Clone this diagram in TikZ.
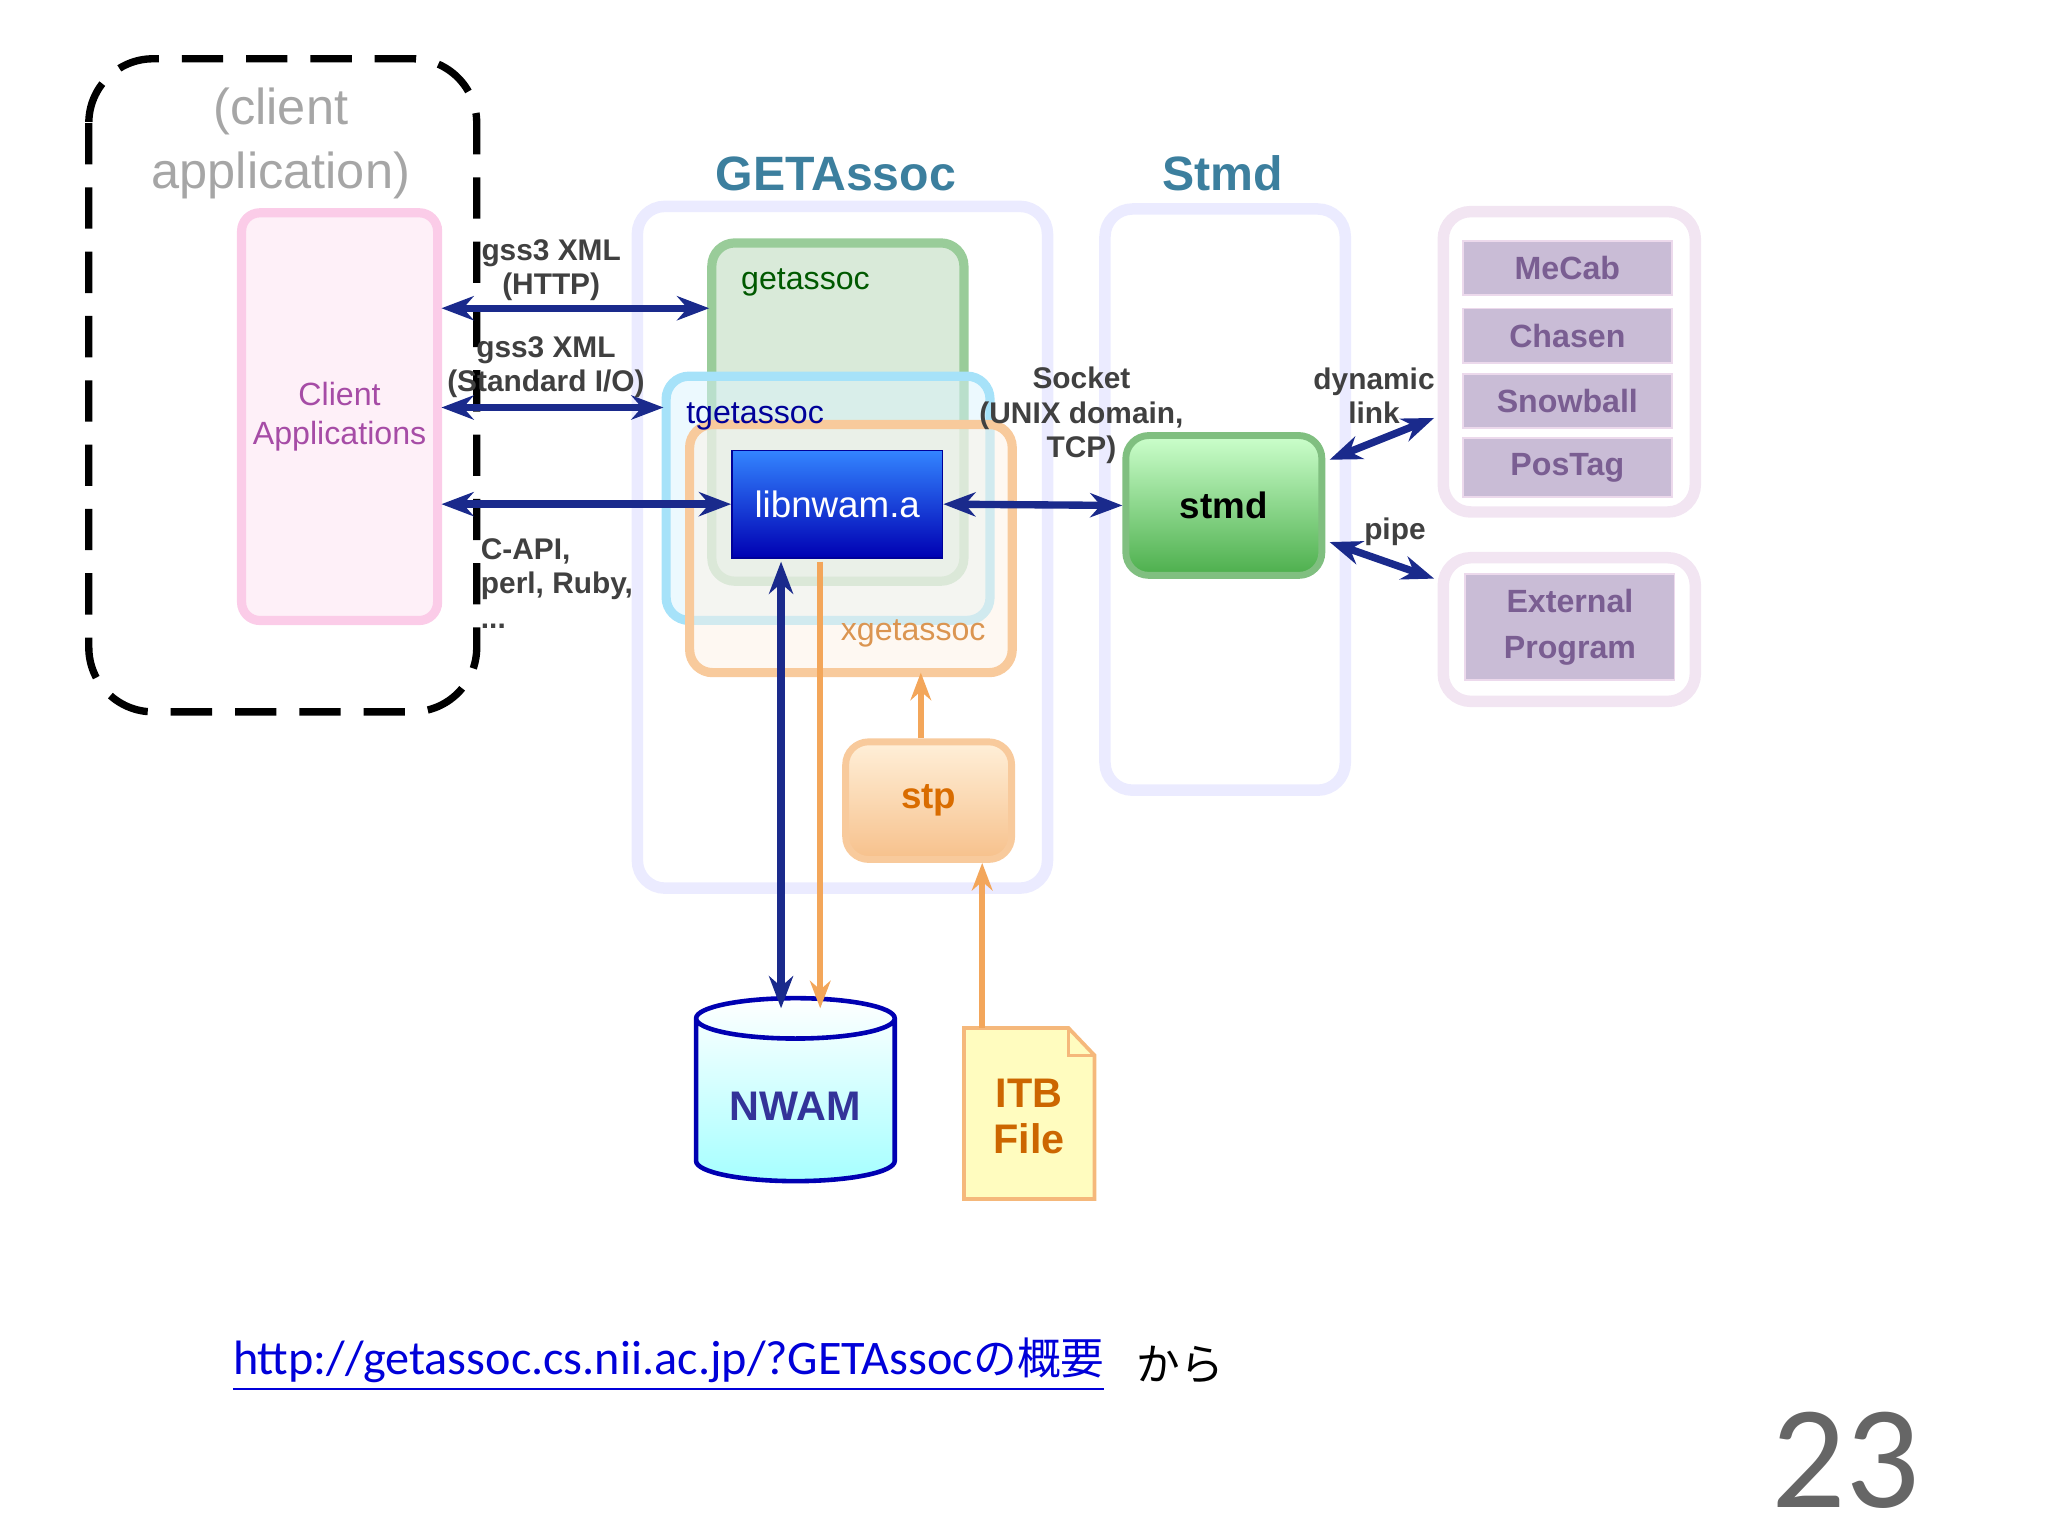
\documentclass[tikz,border=0pt]{standalone}
\usepackage{fontspec}
\setmainfont{Liberation Sans}
\newfontfamily\cjk{Noto Sans CJK JP}
\newfontfamily\carlito{Carlito}
\usetikzlibrary{shapes.geometric,arrows.meta}
\definecolor{navy}{HTML}{1A2A8C}
\definecolor{titleblue}{HTML}{3C7F9E}
\definecolor{orng}{HTML}{F3A65A}
\definecolor{toolfill}{HTML}{C9BCD6}
\definecolor{tooltext}{HTML}{7A5E92}
\begin{document}
\begin{tikzpicture}[x=0.01cm,y=-0.01cm,
  lbl/.style={font=\fontsize{6.5}{7.5}\selectfont\bfseries,text=black!75,align=center,inner sep=1pt},
  title/.style={font=\fontsize{10.5}{12}\selectfont\bfseries,text=titleblue},
  grp/.style={draw=#1,line width=2.5pt,rounded corners=6pt},
  tool/.style={draw=violet!15,fill=toolfill,minimum width=1.6cm,minimum height=0.34cm,font=\fontsize{7}{8}\selectfont\bfseries,text=tooltext},
  link/.style={navy,line width=1.6pt,{Stealth[length=7pt]}-{Stealth[length=7pt]}},
  olink/.style={orng,line width=1.4pt,-{Stealth[length=6pt]}}]
\useasboundingbox (0,0) rectangle (1568,1176);
% client application area
\draw[dashed,line width=1.6pt,dash pattern=on 9pt off 5pt,rounded corners=14pt] (68,45) rectangle (365,545);
\node[font=\fontsize{11}{14}\selectfont,text=black!35,align=center] (capp) at (215,110) {(client\\application)};
\node[draw=magenta!20,fill=magenta!6,line width=2pt,rounded corners=4pt,minimum width=1.5cm,minimum height=3.12cm] (ca) at (260,319) {};
\node[font=\fontsize{7}{8.5}\selectfont,text=violet!70,align=center] at (ca) {Client\\Applications};
% GETAssoc group
\node[title] (gt) at (640,133) {GETAssoc};
\draw[grp=blue!8] (488,158) rectangle (802,680);
\node[title] (st) at (936,133) {Stmd};
\draw[grp=blue!8] (846,160) rectangle (1030,605);
% tools
\draw[grp=violet!10] (1105,162) rectangle (1298,392);
\node[tool] (mecab) at (1200,205) {MeCab};
\node[tool] (chasen) at (1200,257) {Chasen};
\node[tool] (snow) at (1200,307) {Snowball};
\node[tool] (pos) at (1200,358) {PosTag};
\draw[grp=violet!10] (1105,427) rectangle (1298,537);
\node[tool,minimum height=0.7cm,align=center,font=\fontsize{7}{10}\selectfont\bfseries] (ext) at (1202,480) {External\\Program};
% nested components
\draw[draw=green!50!black!40,fill=green!45!black!25,fill opacity=0.6,line width=2pt,rounded corners=5pt] (545,186) rectangle (738,445);
\draw[draw=cyan!35,fill=cyan!15,fill opacity=0.5,line width=2pt,rounded corners=5pt] (510,288) rectangle (758,475);
\draw[draw=orng!60,fill=orng!15,fill opacity=0.5,line width=2pt,rounded corners=5pt] (528,325) rectangle (775,515);
\node[anchor=north west,font=\fontsize{7}{8}\selectfont,text=green!35!black] (ga) at (555,193) {getassoc};
\node[anchor=north west,font=\fontsize{7}{8}\selectfont,text=blue!60!black] (tga) at (513,296) {tgetassoc};
\node[anchor=south east,font=\fontsize{7}{8}\selectfont,text=orng!90!black] (xga) at (767,508) {xgetassoc};
\node[top color=blue!60!cyan!80,bottom color=blue!70!black,draw=blue!60!black,minimum width=1.61cm,minimum height=0.82cm,font=\fontsize{8}{9}\selectfont,text=white] (lib) at (641,386) {libnwam.a};
\node[top color=green!20,bottom color=green!55!black!70,draw=green!50!black!50,line width=1.5pt,rounded corners=5pt,minimum width=1.5cm,minimum height=1.07cm,font=\fontsize{8}{9}\selectfont\bfseries] (stmd) at (937,387) {stmd};
\node[top color=yellow!20!orange!15,bottom color=orng!70,draw=orng!60,line width=1.5pt,rounded corners=5pt,minimum width=1.27cm,minimum height=0.9cm,font=\fontsize{8}{9}\selectfont\bfseries,text=orange!85!black] (stp) at (711,613) {stp};
\node[cylinder,shape border rotate=90,aspect=0.25,draw=blue!70!black,line width=1pt,top color=white,bottom color=cyan!35,minimum width=1.52cm,minimum height=1.4cm,font=\fontsize{9}{10}\selectfont\bfseries,text=blue!50!black!80] (nwam) at (609,847) {NWAM};
\draw[orng!80,fill=yellow!25,line width=0.8pt] (738,787) -- (818,787) -- (838,808) -- (838,918) -- (738,918) -- cycle;
\draw[orng!80,line width=0.8pt] (818,787) -- (818,808) -- (838,808);
\node[font=\fontsize{9}{10}\selectfont\bfseries,text=orange!80!black,align=center] (itb) at (788,855) {ITB\\File};
% connectors
\coordinate (c1) at (338,236); \coordinate (g1) at (543,236);
\coordinate (c2) at (338,312); \coordinate (t2) at (508,312);
\coordinate (c3) at (338,386);
\draw[link] (c1) -- (g1);
\draw[link] (c2) -- (t2);
\draw[link] (c3) -- (lib.west);
\draw[link] (lib.east) -- (stmd.west);
\coordinate (dl) at (1098,320); \coordinate (pp) at (1098,443);
\draw[link] (1018,352) -- (dl);
\draw[link] (1018,415) -- (pp);
\draw[link] (598,430) -- (598,772);
\draw[olink] (628,430) -- (628,772);
\draw[olink] (stp.north -| 705,0) -- (705,515);
\draw[olink] (752,787) -- (stp.south -| 752,0);
% labels
\node[lbl] at (422,207) {gss3 XML\\(HTTP)};
\node[lbl] at (418,281) {gss3 XML\\(Standard I/O)};
\node[lbl,anchor=north west,align=left] at (364,408) {C-API,\\perl, Ruby,\\...};
\node[lbl] at (828,318) {Socket\\(UNIX domain,\\TCP)};
\node[lbl] at (1052,303) {dynamic\\link};
\node[lbl] at (1068,407) {pipe};
% footer
\node[anchor=west,font=\fontsize{10.5}{12}\selectfont\carlito,text=blue!85!black] (url) at (166,1045) {\underline{http://getassoc.cs.nii.ac.jp/?GETAssoc{\cjk\fontsize{9.5}{11}\selectfont の概要}}};
\node[anchor=west,font=\fontsize{9.5}{11}\selectfont\cjk] at (url.east) {から};
\node[font=\fontsize{32}{34}\selectfont\carlito,text=black!60] (pg) at (1413,1118) {23};
\end{tikzpicture}
\end{document}
